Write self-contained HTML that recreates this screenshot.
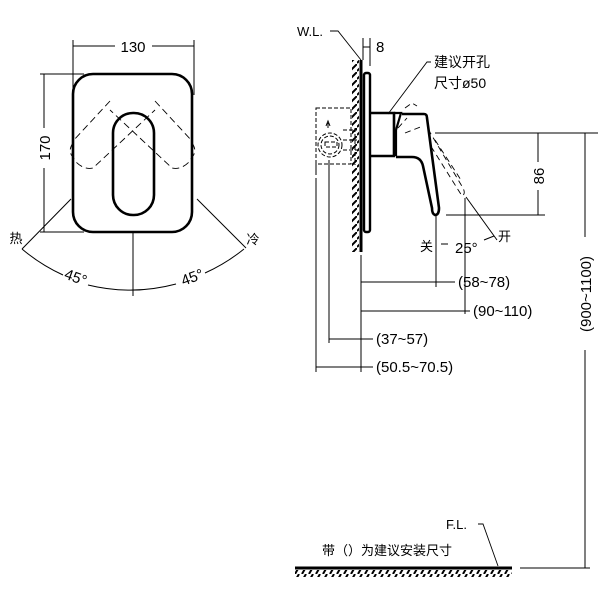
<!DOCTYPE html>
<html><head><meta charset="utf-8"><style>
html,body{margin:0;padding:0;background:#fff;}
svg{display:block;}
text{font-family:"Liberation Sans","Noto Sans CJK SC",sans-serif;fill:#000;}
</style></head><body>
<svg width="600" height="600" viewBox="0 0 600 600" xmlns="http://www.w3.org/2000/svg">
<defs>
<pattern id="hv" width="7" height="8" patternUnits="userSpaceOnUse">
<line x1="0" y1="7" x2="7" y2="0" stroke="#000" stroke-width="2"/>
</pattern>
<pattern id="hf" width="7" height="7" patternUnits="userSpaceOnUse">
<line x1="1" y1="7" x2="5" y2="0" stroke="#000" stroke-width="2"/>
</pattern>
</defs>
<g fill="none" stroke="#000">
<rect x="73" y="74" width="119" height="158" rx="20" ry="20" stroke-width="2.6"/>
<rect x="113" y="113" width="41" height="102" rx="20" ry="20" stroke-width="2.6"/>
<g stroke-width="0.9" stroke-dasharray="7,4">
<path d="M110,101 L73,141 Q70,155 76,162 Q84,170 93,168 L155,110"/>
<path d="M155,101 L192,141 Q195,155 189,162 Q181,170 172,168 L110,110"/>
<path d="M73,143 Q68,150 72,156 M192,143 Q197,150 193,156"/>
</g>
<g stroke-width="1">
<line x1="73" y1="40" x2="73" y2="95"/>
<line x1="194" y1="40" x2="194" y2="95"/>
<line x1="73" y1="46" x2="115" y2="46"/>
<line x1="152" y1="46" x2="194" y2="46"/>
<line x1="40" y1="74" x2="84" y2="74"/>
<line x1="40" y1="232" x2="84" y2="232"/>
<line x1="44" y1="74" x2="44" y2="128"/>
<line x1="44" y1="168" x2="44" y2="232"/>
<line x1="133" y1="232" x2="133" y2="296"/>
<line x1="71" y1="199" x2="22" y2="249"/>
<line x1="197" y1="199" x2="246" y2="248"/>
<path d="M22,249 A177.5,177.5 0 0 0 63,275"/>
<path d="M88,285 A177.5,177.5 0 0 0 176,284"/>
<path d="M205,273 A177.5,177.5 0 0 0 244,249"/>
</g>
</g>
<text x="133" y="52" font-size="15" text-anchor="middle">130</text>
<text x="0" y="0" font-size="15" text-anchor="middle" transform="translate(50,148) rotate(-90)">170</text>
<text x="0" y="0" font-size="15" text-anchor="middle" transform="translate(74,282) rotate(20)">45°</text>
<text x="0" y="0" font-size="15" text-anchor="middle" transform="translate(194,282) rotate(-20)">45°</text>
<text x="16" y="243" font-size="13" text-anchor="middle">热</text>
<text x="253" y="244" font-size="13" text-anchor="middle">冷</text>

<g fill="none" stroke="#000">
<rect x="352" y="60" width="7" height="192" fill="url(#hv)" stroke="none"/>
<line x1="361" y1="60" x2="361" y2="252" stroke-width="3"/>
<rect x="364" y="73" width="6" height="159" rx="2" stroke-width="2.4"/>
<path d="M370,113 H394 V156 H370" stroke-width="2.6"/>
<path d="M394,113 H401 L396,130 V156" stroke-width="2.2"/>
<path d="M402,114 H424 Q427,114 427,118 L439,208 Q439,215 435,215 Q432,214 432,208 L423,166 Q421,157 412,157 H396" stroke-width="2.6"/>
<g stroke-width="0.9" stroke-dasharray="6,4">
<path d="M405,108 L412,103 L417,106 M398,128 L407,118"/>
<path d="M405,133 L423,126"/>
<path d="M428,129 L463,188 Q466,194 462,196 L432,148"/>
<path d="M435,140 L461,180"/>
</g>
<g stroke-width="1" stroke-dasharray="4,2">
<rect x="316" y="108" width="35" height="56"/>
<circle cx="330" cy="145" r="12"/>
<circle cx="330" cy="145" r="9"/>
<rect x="325" y="142" width="12" height="5"/>
<path d="M343,130 H357 M343,140 H357 M343,150 H357 M355,128 V165"/>
</g>
<line x1="328" y1="128" x2="328" y2="123" stroke-width="1"/>
<path d="M326,126 L328,121 L330,126" stroke-width="1"/>
<line x1="316" y1="164" x2="316" y2="175" stroke-width="1"/>
<path d="M330,31 H338 L361,60" stroke-width="0.9"/>
<g stroke-width="1">
<line x1="363" y1="38" x2="363" y2="60"/>
<line x1="370" y1="38" x2="370" y2="66"/>
<line x1="363" y1="47" x2="370" y2="47"/>
</g>
<path d="M431,62 H427 L388,114" stroke-width="0.9"/>
<g stroke-width="1">
<line x1="446" y1="215" x2="545" y2="215"/>
<line x1="538" y1="133" x2="538" y2="162"/>
<line x1="538" y1="190" x2="538" y2="215"/>
<line x1="435" y1="133" x2="598" y2="133"/>
<line x1="585" y1="133" x2="585" y2="237"/>
<line x1="585" y1="350" x2="585" y2="568"/>
<line x1="520" y1="568" x2="590" y2="568"/>
<line x1="361" y1="255" x2="361" y2="372"/>
<line x1="436" y1="216" x2="436" y2="287"/>
<line x1="465" y1="198" x2="465" y2="314"/>
<line x1="329" y1="160" x2="329" y2="343"/>
<line x1="316" y1="178" x2="316" y2="372"/>
<line x1="361" y1="282" x2="455" y2="282"/>
<line x1="361" y1="311" x2="470" y2="311"/>
<line x1="329" y1="339" x2="373" y2="339"/>
<line x1="316" y1="367" x2="373" y2="367"/>
<line x1="466" y1="197" x2="497" y2="240"/>
<line x1="484" y1="240" x2="494" y2="236"/>
<line x1="441" y1="244" x2="448" y2="244"/>
</g>
<line x1="295" y1="568" x2="512" y2="568" stroke-width="3"/>
<path d="M478,524 H483 L498,566" stroke-width="0.9"/>
</g>
<rect x="295" y="570" width="217" height="7" fill="url(#hf)"/>
<text x="297" y="36" font-size="13">W.L.</text>
<text x="376" y="52" font-size="15">8</text>
<text x="434" y="67" font-size="14">建议开孔</text>
<text x="434" y="88" font-size="14">尺寸ø50</text>
<text x="0" y="0" font-size="15" text-anchor="middle" transform="translate(544,176) rotate(-90)">86</text>
<text x="0" y="0" font-size="15" text-anchor="middle" transform="translate(591,294) rotate(-90)">(900~1100)</text>
<text x="420" y="251" font-size="13">关</text>
<text x="455" y="253" font-size="15">25°</text>
<text x="498" y="241" font-size="13">开</text>
<text x="458" y="287" font-size="15">(58~78)</text>
<text x="473" y="316" font-size="15">(90~110)</text>
<text x="376" y="344" font-size="15">(37~57)</text>
<text x="376" y="372" font-size="15">(50.5~70.5)</text>
<text x="446" y="529" font-size="13">F.L.</text>
<text x="322" y="555" font-size="13">带（）为建议安装尺寸</text>
</svg>
</body></html>
